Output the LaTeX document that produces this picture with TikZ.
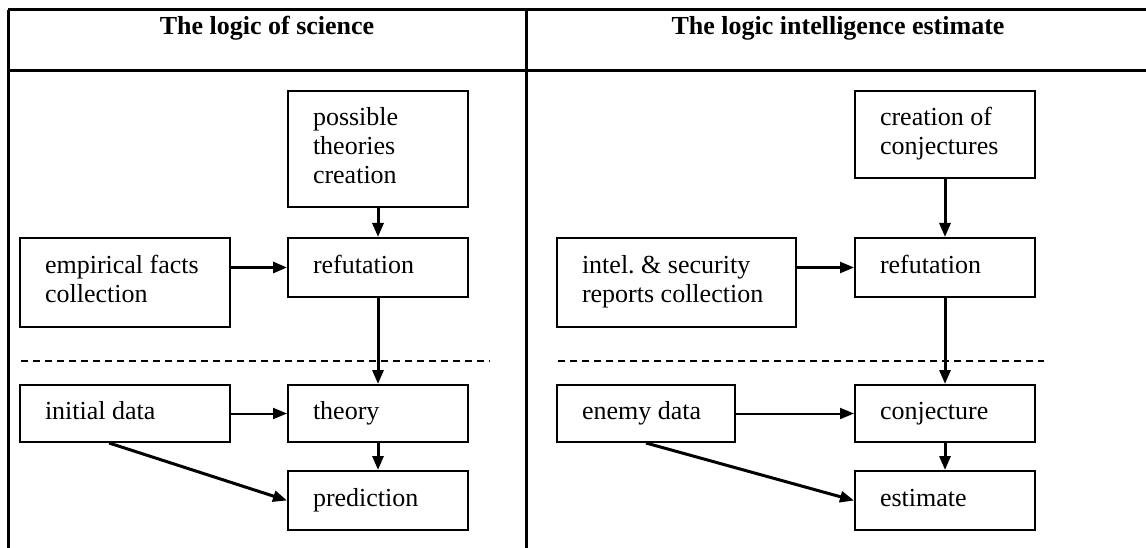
\documentclass[tikz,border=0pt]{standalone}
\usepackage{fontspec}
\setmainfont{Liberation Serif}
\usetikzlibrary{arrows.meta,calc}
\begin{document}
\begin{tikzpicture}[x=1pt,y=-1pt,
  tbl/.style={line width=3pt},
  hdr/.style={font=\fontsize{26}{29}\selectfont\bfseries, anchor=base, inner sep=0pt},
  box/.style={draw, line width=2pt, anchor=north west, inner xsep=25pt, inner ysep=0pt,
    align=flush left, font=\fontsize{26}{29}\selectfont\frenchspacing,
    execute at begin node=\strut, execute at end node=\strut},
  wide/.style={text width=160pt, minimum width=210pt},
  mid/.style={text width=130pt, minimum width=180pt},
  dsh/.style={line width=2.2pt, dash pattern=on 7pt off 5pt},
  tip/.style={-{Triangle[length=14pt,width=11pt]}},
  arr/.style={tip, line width=3pt},
  arrmed/.style={tip, line width=2.4pt},
  arrthin/.style={tip, line width=2pt}]
\useasboundingbox (0,0) rectangle (1146,548);
% table
\draw[tbl] (8,10) -- (1146,10);
\draw[tbl] (8,71) -- (1146,71);
\draw[tbl] (8,10) -- (8,548);
\draw[tbl] (526,10) -- (526,548);
\node[hdr] (h1) at (267,35) {The logic of science};
\node[hdr] (h2) at (838,35) {The logic intelligence estimate};
% left panel
\node[box, mid, minimum height=116pt] (poss) at (287,90) {possible\\theories\\creation};
\node[box, mid, minimum height=59pt] (ref) at (287,237) {refutation};
\node[box, wide, minimum height=89pt] (emp) at (19,237) {empirical facts\\collection};
\node[box, wide, minimum height=57pt] (init) at (19,384) {initial data};
\node[box, mid, minimum height=57pt] (theory) at (287,384) {theory};
\node[box, mid, minimum height=59pt] (pred) at (287,470) {prediction};
\draw[dsh] (21,361) -- (490,361);
% right panel
\node[box, mid, minimum height=87pt] (creat) at (854,90) {creation of\\conjectures};
\node[box, mid, minimum height=59pt] (ref2) at (854,237) {refutation};
\node[box, text width=189pt, minimum width=239pt, minimum height=89pt] (intel) at (556,237) {intel. \& security\\reports collection};
\node[box, text width=128pt, minimum width=178pt, minimum height=57pt] (enemy) at (556,384) {enemy data};
\node[box, mid, minimum height=57pt] (conj) at (854,384) {conjecture};
\node[box, mid, minimum height=59pt] (est) at (854,470) {estimate};
\draw[dsh] (558,361) -- (1044,361);
% left arrows
\draw[arr] (poss.south) -- (ref.north);
\draw[arr] (emp.east |- ref.west) -- (ref.west);
\draw[arr] (ref.south) -- (theory.north);
\draw[arrthin] (init.east) -- (theory.west);
\draw[arr] (theory.south) -- (pred.north);
\coordinate (initd) at ($(init.south west)!0.425!(init.south east)$);
\draw[arr] (initd) -- (pred.west);
% right arrows
\draw[arr] (creat.south) -- (ref2.north);
\draw[arrmed] (intel.east |- ref2.west) -- (ref2.west);
\draw[arr] (ref2.south) -- (conj.north);
\draw[arrthin] (enemy.east) -- (conj.west);
\draw[arr] (conj.south) -- (est.north);
\draw[arr] (enemy.south) -- (est.west);
\end{tikzpicture}
\end{document}
